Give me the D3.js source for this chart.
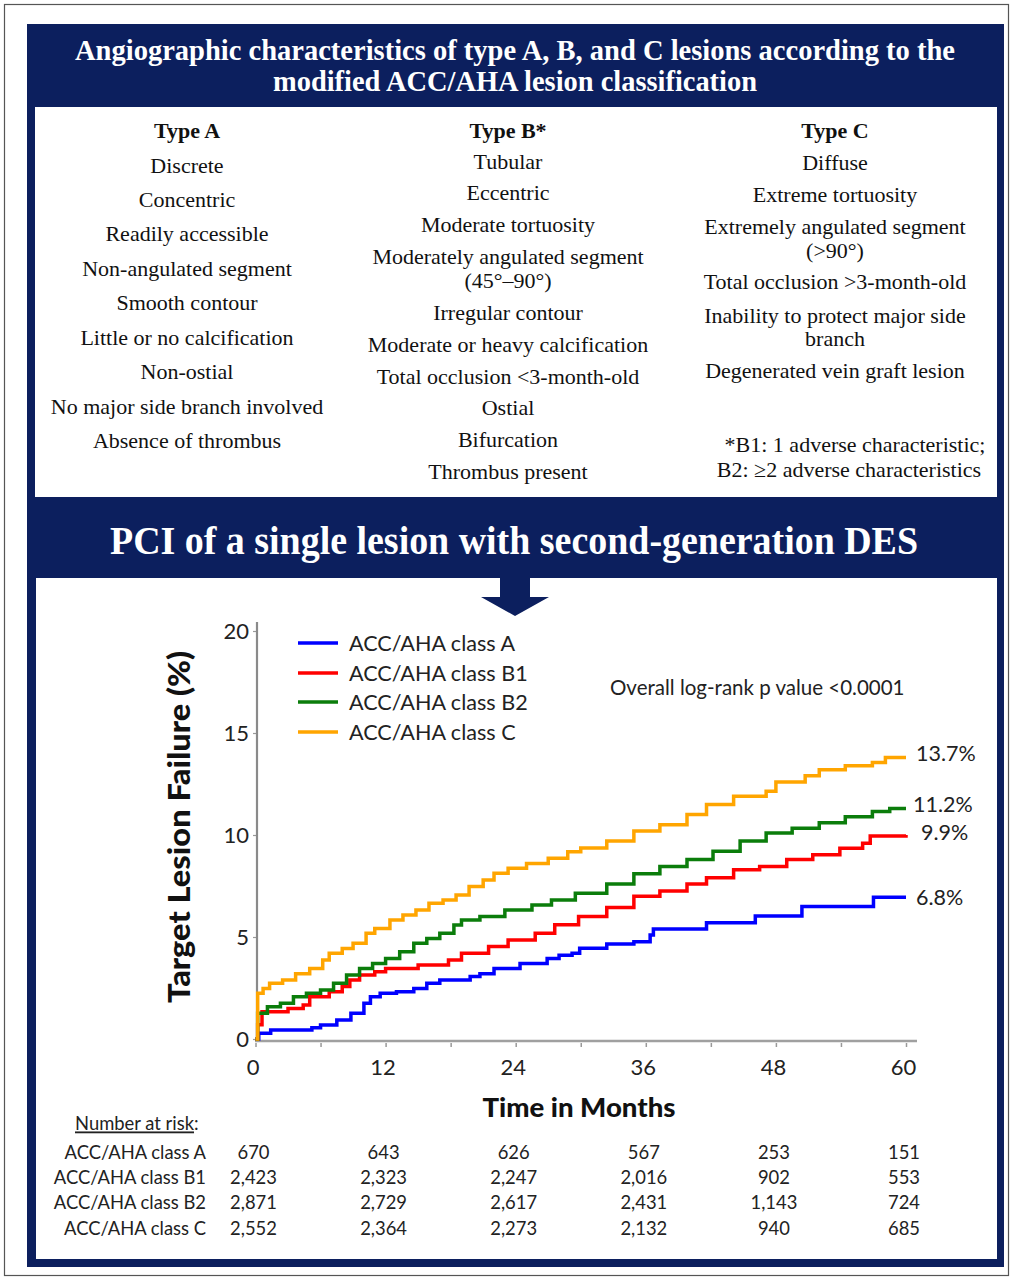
<!DOCTYPE html>
<html>
<head>
<meta charset="utf-8">
<script src="https://cdn.jsdelivr.net/npm/d3@7"></script>
<style>
  body { margin: 0; background: #fff; }
  svg { display: block; }
</style>
</head>
<body>
<svg id="chart" width="1010" height="1280"></svg>
<script>
// ---------------- DATA ----------------
const headerLines = ["Angiographic characteristics of type A, B, and C lesions according to the",
                     "modified ACC/AHA lesion classification"];
const bandTitle = "PCI of a single lesion with second-generation DES";

const typeAHead = "Type A";
const typeAItems = ["Discrete", "Concentric", "Readily accessible", "Non-angulated segment", "Smooth contour",
  "Little or no calcification", "Non-ostial", "No major side branch involved", "Absence of thrombus"];
const typeBHead = "Type B*";
const typeBItems = ["Tubular", "Eccentric", "Moderate tortuosity", "Moderately angulated segment", "(45°–90°)",
  "Irregular contour", "Moderate or heavy calcification", "Total occlusion <3-month-old", "Ostial",
  "Bifurcation", "Thrombus present"];
const typeCHead = "Type C";
const typeCItems = ["Diffuse", "Extreme tortuosity", "Extremely angulated segment", "(>90°)",
  "Total occlusion >3-month-old", "Inability to protect major side", "branch", "Degenerated vein graft lesion"];
const footnote = ["*B1: 1 adverse characteristic;", "B2: \u22652 adverse characteristics"];

const seriesNames = ["ACC/AHA class A", "ACC/AHA class B1", "ACC/AHA class B2", "ACC/AHA class C"];
const endLabels = ["6.8%", "9.9%", "11.2%", "13.7%"];

const xTicks = [0, 12, 24, 36, 48, 60];
const xMinorTicks = [0, 6, 12, 18, 24, 30, 36, 42, 48, 54, 60];
const yTicks = [0, 5, 10, 15, 20];

const classA_t = [0, 0.3, 1.4, 5.2, 6, 7.5, 8.8, 10, 10.6, 11.5, 13, 14.6, 15.8, 17, 19.8, 20.7, 22, 24.4, 26.9, 28, 29.2, 29.9, 32.4, 34.9, 36.4, 36.7, 41.6, 46.1, 50.4, 57, 60];
const classA_v = [0, 0.28, 0.44, 0.55, 0.69, 0.93, 1.26, 1.75, 2.07, 2.24, 2.32, 2.48, 2.73, 2.89, 3.06, 3.2, 3.46, 3.7, 3.95, 4.1, 4.2, 4.45, 4.66, 4.77, 5.1, 5.39, 5.7, 6.03, 6.49, 6.95, 6.95];

const classB1_t = [0, 0.2, 0.6, 3, 4.4, 5, 6.8, 8, 8.7, 9.6, 11, 12, 15, 17.8, 19, 21.5, 23.3, 25.8, 27.6, 29.8, 32.4, 34.9, 37.3, 39.8, 41.6, 44.1, 46.5, 49, 51.4, 53.9, 56, 56.7, 60];
const classB1_v = [0, 0.7, 1.34, 1.5, 1.67, 2.07, 2.32, 2.57, 2.89, 3.14, 3.3, 3.46, 3.63, 3.87, 4.2, 4.53, 4.85, 5.18, 5.6, 6.0, 6.45, 7.0, 7.26, 7.6, 7.9, 8.3, 8.45, 8.8, 9.03, 9.35, 9.6, 9.95, 10.0];

const classB2_t = [0, 0.2, 1.1, 2.3, 3.5, 4.7, 6, 7.2, 8.4, 9.6, 10.8, 12, 13.3, 14.6, 15.8, 17, 18.3, 19, 20.7, 23, 25.5, 27.3, 29.5, 32.4, 34.9, 37.3, 39.8, 42.2, 44.7, 47.1, 49.5, 52, 54.4, 56.9, 58.5, 60];
const classB2_v = [0, 1.26, 1.58, 1.75, 2.07, 2.24, 2.4, 2.73, 3.14, 3.46, 3.7, 3.95, 4.28, 4.69, 4.93, 5.18, 5.59, 5.83, 6.0, 6.32, 6.57, 6.81, 7.14, 7.6, 8.1, 8.45, 8.8, 9.2, 9.7, 10.1, 10.33, 10.6, 10.9, 11.15, 11.3, 11.3];

const classC_t = [0, 0.2, 0.7, 1.3, 2.5, 3.7, 5, 6.2, 6.8, 8, 9, 10.2, 11, 12.4, 13.6, 14.8, 16, 17.3, 18.5, 19.7, 21, 22, 23.3, 25, 27, 28.8, 30, 32.4, 34.9, 37.3, 39.8, 41.6, 44.1, 47.1, 48, 50.7, 52, 54.4, 56.9, 58.1, 60];
const classC_v = [0, 2.24, 2.48, 2.73, 2.89, 3.2, 3.46, 3.87, 4.2, 4.44, 4.69, 5.18, 5.42, 5.83, 6.08, 6.32, 6.65, 6.81, 7.06, 7.47, 7.8, 8.12, 8.37, 8.6, 8.86, 9.18, 9.36, 9.7, 10.2, 10.5, 11.0, 11.5, 11.9, 12.15, 12.6, 12.9, 13.2, 13.4, 13.55, 13.8, 13.8];

const riskA  = ["670", "643", "626", "567", "253", "151"];
const riskB1 = ["2,423", "2,323", "2,247", "2,016", "902", "553"];
const riskB2 = ["2,871", "2,729", "2,617", "2,431", "1,143", "724"];
const riskC  = ["2,552", "2,364", "2,273", "2,132", "940", "685"];

// ---------------- DRAW ----------------
const NAVY = "#0c1f5e";
const colors = ["#0000ff", "#ff0000", "#0b7d0b", "#ffa500"];
const SERIF = "'Liberation Serif', 'Times New Roman', serif";
const SANS = "Lato, 'Open Sans', sans-serif";

const svg = d3.select("#chart");

// outer thin frame
svg.append("rect").attr("x", 4.5).attr("y", 4.5).attr("width", 1004).attr("height", 1271)
  .attr("fill", "none").attr("stroke", "#555").attr("stroke-width", 1.2);

// navy box
svg.append("rect").attr("x", 27).attr("y", 24).attr("width", 977).attr("height", 1243).attr("fill", NAVY);
// white panels
svg.append("rect").attr("x", 35).attr("y", 107).attr("width", 962).attr("height", 390).attr("fill", "#fff");
svg.append("rect").attr("x", 36).attr("y", 578).attr("width", 961).attr("height", 681).attr("fill", "#fff");

// header texts
const hdr = svg.append("g").attr("fill", "#fff").attr("font-family", SERIF).attr("font-weight", "bold")
  .attr("text-anchor", "middle");
hdr.append("text").attr("x", 515).attr("y", 60).attr("font-size", 28.5)
  .attr("textLength", 880).attr("lengthAdjust", "spacingAndGlyphs").text(headerLines[0]);
hdr.append("text").attr("x", 515).attr("y", 91).attr("font-size", 28.5)
  .attr("textLength", 484).attr("lengthAdjust", "spacingAndGlyphs").text(headerLines[1]);
hdr.append("text").attr("x", 514).attr("y", 554).attr("font-size", 40)
  .attr("textLength", 808).attr("lengthAdjust", "spacingAndGlyphs").text(bandTitle);

// arrow
svg.append("path").attr("fill", NAVY)
  .attr("d", "M500,577 L530,577 L530,597 L549,597 L515,616 L481,597 L500,597 Z");

// table columns
const tbl = svg.append("g").attr("font-family", SERIF).attr("fill", "#111").attr("font-size", 22)
  .attr("text-anchor", "middle");
function column(cx, head, items, ys) {
  tbl.append("text").attr("x", cx).attr("y", 138).attr("font-weight", "bold").text(head);
  items.forEach((t, i) => tbl.append("text").attr("x", cx).attr("y", ys[i] + 7).text(t));
}
column(187, typeAHead, typeAItems, [166, 200, 234, 269, 303, 338, 372, 407, 441]);
column(508, typeBHead, typeBItems, [162, 193, 225, 257, 281, 313, 345, 377, 408, 440, 472]);
column(835, typeCHead, typeCItems, [163, 195, 227, 251, 282, 316, 339, 371]);
tbl.append("text").attr("x", 855).attr("y", 452).text(footnote[0]);
tbl.append("text").attr("x", 849).attr("y", 477).text(footnote[1]);

// ---- chart ----
const x = d3.scaleLinear().domain([0, 60]).range([255.5, 906]);
const y = d3.scaleLinear().domain([0, 20]).range([1039, 631]);

const g = svg.append("g").attr("font-family", SANS);

// axes
const yAxis = d3.axisLeft(y).tickValues(yTicks).tickSize(4).tickPadding(4).tickFormat(d3.format("d"));
const yG = g.append("g").attr("transform", "translate(257,0)").call(yAxis);
yG.select(".domain").remove();
yG.selectAll(".tick line").attr("stroke", "#999").attr("stroke-width", 1.2);
yG.selectAll(".tick text").attr("font-family", SANS).attr("font-size", 22).attr("fill", "#222")
  .attr("dy", "0.35em").attr("x", -8);
g.append("line").attr("x1", 257).attr("x2", 257).attr("y1", 622).attr("y2", 1041)
  .attr("stroke", "#8a8a8a").attr("stroke-width", 2.2);

const xAxisMinor = d3.axisBottom(x).tickValues(xMinorTicks).tickSize(4).tickFormat("");
const xmG = g.append("g").attr("transform", "translate(0,1043)").call(xAxisMinor);
xmG.select(".domain").remove();
xmG.selectAll(".tick line").attr("stroke", "#999").attr("stroke-width", 1.5);
const xAxis = d3.axisBottom(x).tickValues(xTicks).tickSize(0).tickPadding(18).tickFormat(d3.format("d"));
const xG = g.append("g").attr("transform", "translate(-3,1041)").call(xAxis);
xG.select(".domain").remove();
xG.selectAll(".tick text").attr("font-family", SANS).attr("font-size", 22).attr("fill", "#222");
g.append("line").attr("x1", 255).attr("x2", 917).attr("y1", 1041).attr("y2", 1041)
  .attr("stroke", "#a0a0a0").attr("stroke-width", 2.4);

// axis titles
g.append("text").attr("transform", "translate(190,827) rotate(-90)").attr("text-anchor", "middle")
  .attr("font-size", 30).attr("font-weight", "900").attr("fill", "#111")
  .attr("textLength", 352).attr("lengthAdjust", "spacingAndGlyphs").text("Target Lesion Failure (%)");
g.append("text").attr("x", 579).attr("y", 1117).attr("text-anchor", "middle")
  .attr("font-size", 26).attr("font-weight", "900").attr("fill", "#111")
  .attr("textLength", 193).attr("lengthAdjust", "spacingAndGlyphs").text("Time in Months");

// curves
const curves = [[classA_t, classA_v], [classB1_t, classB1_v], [classB2_t, classB2_v], [classC_t, classC_v]];
const line = d3.line().x(d => x(d[0])).y(d => y(d[1])).curve(d3.curveStepAfter);
curves.forEach((c, i) => {
  const pts = c[0].map((t, k) => [t, c[1][k]]);
  g.append("path").datum(pts).attr("d", line).attr("fill", "none")
    .attr("stroke", colors[i]).attr("stroke-width", 3.5).attr("stroke-linejoin", "miter");
});

// end labels
const endY = [897, 832, 804, 753];
const endX = [916, 921, 913, 916];
endLabels.forEach((t, i) => {
  g.append("text").attr("x", endX[i]).attr("y", endY[i]).attr("dy", "0.35em").attr("font-size", 21.5)
    .attr("fill", "#222").text(t);
});

// legend
const legY = [643, 673, 702, 732];
seriesNames.forEach((n, i) => {
  g.append("line").attr("x1", 298).attr("x2", 338).attr("y1", legY[i]).attr("y2", legY[i])
    .attr("stroke", colors[i]).attr("stroke-width", 3.5);
  g.append("text").attr("x", 349).attr("y", legY[i]).attr("dy", "0.35em").attr("font-size", 21.6)
    .attr("fill", "#222").text(n);
});

g.append("text").attr("x", 610).attr("y", 688).attr("dy", "0.35em").attr("font-size", 20.5)
  .attr("fill", "#222").text("Overall log-rank p value <0.0001");

// risk table
const rt = g.append("g").attr("font-size", 18.4).attr("fill", "#222");
const nar = rt.append("text").attr("x", 75).attr("y", 1124).attr("dy", "0.35em");
nar.append("tspan").attr("text-decoration", "underline").text("Number at risk");
nar.append("tspan").text(":");
const riskRows = [riskA, riskB1, riskB2, riskC];
const rowY = [1153, 1178, 1203, 1229];
riskRows.forEach((row, r) => {
  rt.append("text").attr("x", 206).attr("y", rowY[r]).attr("dy", "0.35em").attr("text-anchor", "end")
    .text(seriesNames[r]);
  row.forEach((v, k) => {
    rt.append("text").attr("x", x(xTicks[k]) - 2).attr("y", rowY[r]).attr("dy", "0.35em")
      .attr("text-anchor", "middle").text(v);
  });
});
</script>
</body>
</html>
